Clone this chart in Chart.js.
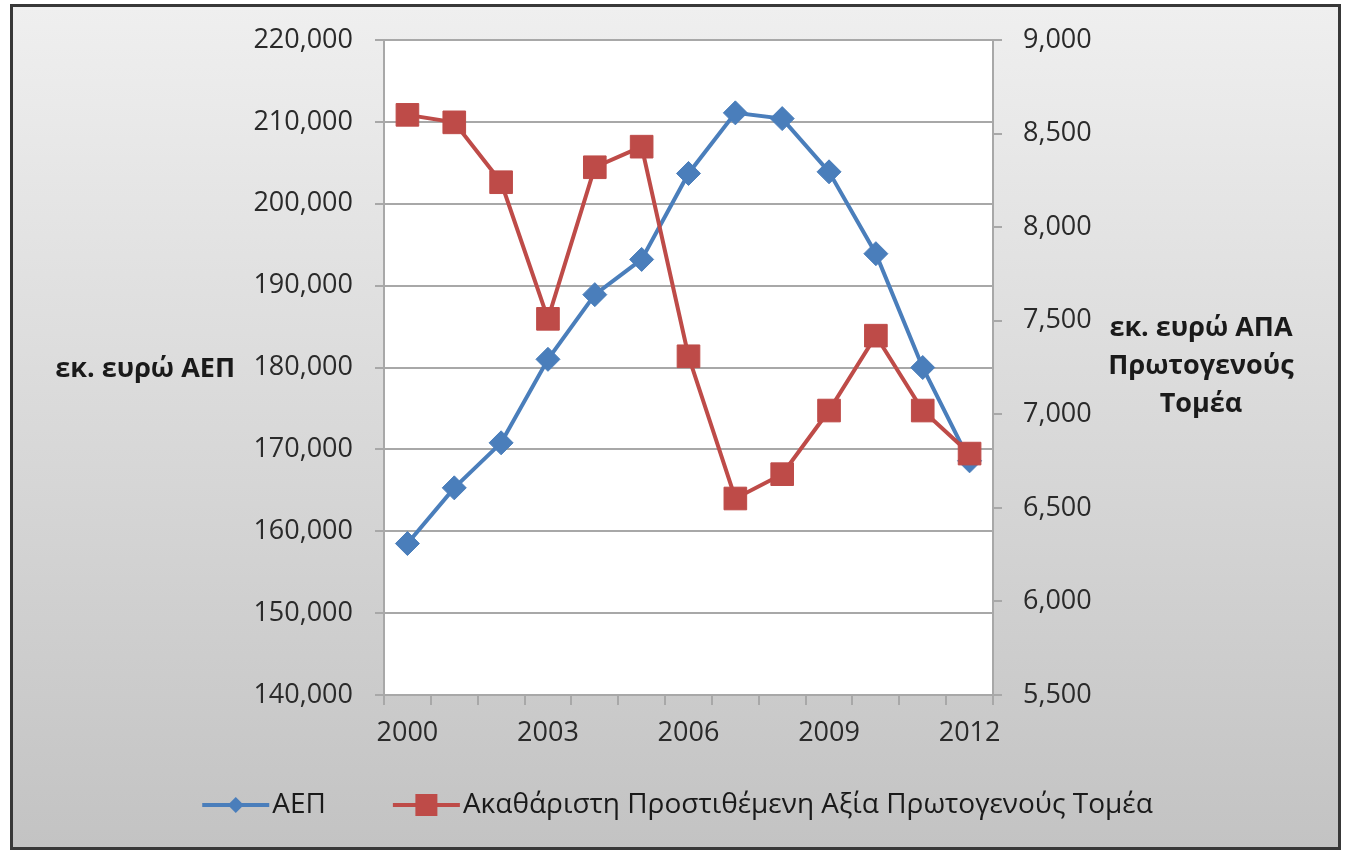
<!doctype html>
<html>
  <head>
    <meta charset="utf-8" />
    <title>ΑΕΠ και ΑΠΑ Πρωτογενούς Τομέα</title>
    <script src="https://cdn.jsdelivr.net/npm/chart.js"></script>
    <style>
      body {
        margin: 0;
        background: #ffffff;
      }
      #frame {
        position: absolute;
        left: 10px;
        top: 4px;
        width: 1325px;
        height: 840px;
        border: 3px solid #383838;
        background: linear-gradient(#efefef, #c3c3c3);
      }
    </style>
  </head>

  <body>
    <div id="frame">
      <canvas id="lineChart"></canvas>
    </div>

    <script>
      // values
      var years = ["2000", "2001", "2002", "2003", "2004", "2005", "2006", "2007", "2008", "2009", "2010", "2011", "2012"];
      var gdp = [158500, 165300, 170800, 181000, 188900, 193200, 203700, 211100, 210400, 203900, 193900, 180000, 168600];
      var gva = [8600, 8560, 8240, 7510, 8320, 8430, 7310, 6550, 6680, 7020, 7420, 7020, 6790];

      var gdpLabel = "ΑΕΠ";
      var gvaLabel = "Ακαθάριστη Προστιθέμενη Αξία Πρωτογενούς Τομέα";
      var leftTitle = ["εκ. ευρώ ΑΕΠ"];
      var rightTitle = ["εκ. ευρώ ΑΠΑ", "Πρωτογενούς", "Τομέα"];

      var blue = "#4a7ebb";
      var red = "#be4b48";
      var gridColor = "#a8a8a8";
      var textColor = "#2a2a2a";
      var tickFont = { family: "Open Sans", size: 27 };

      function fmt(v) {
        return Number(v).toLocaleString("en-US");
      }

      // white plot area
      var plotBackground = {
        id: "plotBackground",
        beforeDraw: function (chart) {
          var a = chart.chartArea;
          var ctx = chart.ctx;
          ctx.save();
          ctx.fillStyle = "#ffffff";
          ctx.fillRect(a.left, a.top, a.right - a.left, a.bottom - a.top);
          ctx.restore();
        },
      };

      // horizontal axis titles, like the excel original
      var axisTitles = {
        id: "axisTitles",
        afterDraw: function (chart) {
          var ctx = chart.ctx;
          var y = chart.scales.y;
          var y1 = chart.scales.y1;
          ctx.save();
          ctx.fillStyle = "#1a1a1a";
          ctx.font = "bold 27px 'Open Sans'";
          ctx.textBaseline = "middle";
          ctx.textAlign = "right";
          ctx.fillText(leftTitle[0], 222, y.getPixelForValue(180000) + 2);
          ctx.textAlign = "center";
          var top = y1.getPixelForValue(7500) + 8;
          rightTitle.forEach(function (line, i) {
            ctx.fillText(line, 1188, top + i * 38);
          });
          ctx.restore();
        },
      };

      // legend with line + marker icons
      var legendRow = {
        id: "legendRow",
        afterDraw: function (chart) {
          var ctx = chart.ctx;
          var items = chart.data.datasets;
          var iconW = 67;
          var textGap = 3;
          var itemGap = 67;
          var yMid = 798;
          ctx.save();
          ctx.font = "28px 'Open Sans'";
          var total = 0;
          items.forEach(function (ds, i) {
            total += iconW + textGap + ctx.measureText(ds.label).width;
            if (i > 0) total += itemGap;
          });
          var x = chart.width / 2 + 2 - total / 2;
          items.forEach(function (ds) {
            ctx.strokeStyle = ds.borderColor;
            ctx.lineWidth = 4;
            ctx.beginPath();
            ctx.moveTo(x, yMid);
            ctx.lineTo(x + iconW, yMid);
            ctx.stroke();
            var cx = x + iconW / 2;
            ctx.fillStyle = ds.borderColor;
            ctx.beginPath();
            if (ds.pointStyle === "rectRot") {
              ctx.moveTo(cx - 8, yMid);
              ctx.lineTo(cx, yMid - 8);
              ctx.lineTo(cx + 8, yMid);
              ctx.lineTo(cx, yMid + 8);
              ctx.closePath();
            } else {
              ctx.rect(cx - 11, yMid - 11, 22, 22);
            }
            ctx.fill();
            x += iconW + textGap;
            ctx.fillStyle = "#1a1a1a";
            ctx.textBaseline = "middle";
            ctx.fillText(ds.label, x, yMid);
            x += ctx.measureText(ds.label).width + itemGap;
          });
          ctx.restore();
        },
      };

      var ctx = document.getElementById("lineChart").getContext("2d");
      var chart = new Chart(ctx, {
        type: "line",
        data: {
          labels: years,
          datasets: [
            {
              label: gdpLabel,
              data: gdp,
              yAxisID: "y",
              borderColor: blue,
              backgroundColor: blue,
              borderWidth: 4,
              pointStyle: "rectRot",
              pointRadius: 12,
              pointBorderWidth: 1,
              tension: 0,
              order: 1,
            },
            {
              label: gvaLabel,
              data: gva,
              yAxisID: "y1",
              borderColor: red,
              backgroundColor: red,
              borderWidth: 4,
              pointStyle: "rect",
              pointRadius: 16,
              pointBorderWidth: 1,
              tension: 0,
              order: 0,
            },
          ],
        },
        options: {
          responsive: true,
          maintainAspectRatio: false,
          animation: false,
          layout: {
            padding: { top: 33, bottom: 77, left: 0, right: 0 },
          },
          plugins: {
            legend: { display: false },
            tooltip: { enabled: false },
          },
          scales: {
            x: {
              type: "category",
              offset: true,
              grid: {
                offset: true,
                drawOnChartArea: false,
                color: gridColor,
                lineWidth: 2,
                tickLength: 10,
              },
              border: { color: gridColor, width: 2 },
              ticks: {
                autoSkip: false,
                maxRotation: 0,
                padding: 12,
                color: textColor,
                font: tickFont,
                callback: function (v, i) {
                  return i % 3 === 0 ? years[i] : "";
                },
              },
              afterFit: function (scale) {
                scale.height = 75;
                scale.paddingLeft = 0;
                scale.paddingRight = 0;
              },
            },
            y: {
              position: "left",
              min: 140000,
              max: 220000,
              grid: {
                color: gridColor,
                lineWidth: 2,
                tickLength: 9,
              },
              border: { color: gridColor, width: 2 },
              ticks: {
                stepSize: 10000,
                padding: 22,
                color: textColor,
                font: tickFont,
                callback: fmt,
              },
              afterFit: function (scale) {
                scale.width = 371;
                scale.paddingTop = 0;
                scale.paddingBottom = 0;
              },
            },
            y1: {
              position: "right",
              min: 5500,
              max: 9000,
              grid: {
                drawOnChartArea: false,
                color: gridColor,
                lineWidth: 2,
                tickLength: 9,
              },
              border: { color: gridColor, width: 2 },
              ticks: {
                stepSize: 500,
                padding: 21,
                color: textColor,
                font: tickFont,
                callback: fmt,
              },
              afterFit: function (scale) {
                scale.width = 345;
                scale.paddingTop = 0;
                scale.paddingBottom = 0;
              },
            },
          },
        },
        plugins: [plotBackground, axisTitles, legendRow],
      });
    </script>
  </body>
</html>
